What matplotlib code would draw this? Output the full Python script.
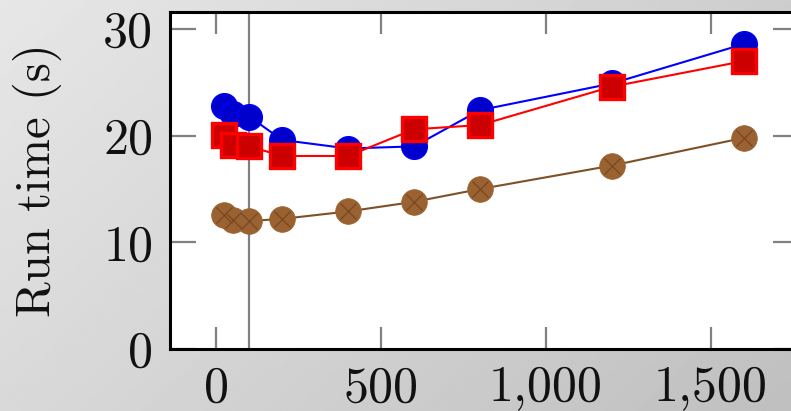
import numpy as np
import matplotlib
matplotlib.use("Agg")
import matplotlib.pyplot as plt
from matplotlib.ticker import FuncFormatter, FixedLocator

plt.rcParams['font.family'] = ['cmr10', 'DejaVu Serif']
plt.rcParams['axes.unicode_minus'] = False

x = [25, 50, 100, 200, 400, 600, 800, 1200, 1600]
blue = [22.8, 22.0, 21.8, 19.6, 18.8, 19.0, 22.4, 24.9, 28.6]
red = [20.1, 19.1, 19.0, 18.1, 18.1, 20.6, 21.0, 24.6, 27.0]
brown = [12.6, 12.1, 12.0, 12.2, 12.9, 13.8, 15.0, 17.2, 19.8]
xticks = [0, 500, 1000, 1500]
yticks = [0, 10, 20, 30]
vline_x = 100
ylabel = "Run time (s)"

fig = plt.figure(figsize=(7.91, 4.11), dpi=100)

# gradient background
bg = fig.add_axes([0, 0, 1, 1], zorder=-10)
gx, gy = np.meshgrid(np.linspace(0, 1, 200), np.linspace(0, 1, 200))
grad = 0.905 - 0.10 * gx - 0.055 * gy
bg.imshow(grad, cmap='gray', vmin=0, vmax=1, aspect='auto', extent=[0, 1, 0, 1], origin='upper')
bg.axis('off')

ax = fig.add_axes([170/791, 62/411, 629/791, 337/411])
ax.set_facecolor('white')
ax.set_xlim(-140, 1767)
ax.set_ylim(0, 31.6)

ax.axvline(vline_x, color='#808080', lw=1.6, zorder=1)

ax.plot(x, blue, color='#0000FF', lw=1.5, marker='o', ms=18.5, mfc='#0000CC', mec='#0000FF', mew=1.0, zorder=3)
ax.plot(x, red, color='#FF0000', lw=1.5, marker='s', ms=17.5, mfc='#CC0000', mec='#FF0000', mew=2.4, zorder=4)
ax.plot(x, brown, color='#7F5026', lw=1.5, marker='o', ms=18.5, mfc='#9A6230', mec='#9A6230', mew=0.5, zorder=3)
ax.plot(x, brown, ls='none', marker='x', ms=11, mec='#7A4A22', mew=1.0, zorder=3.5)

ax.xaxis.set_major_locator(FixedLocator(xticks))
ax.yaxis.set_major_locator(FixedLocator(yticks))
ax.xaxis.set_major_formatter(FuncFormatter(lambda v, p: f"{int(v):,}"))
ax.yaxis.set_major_formatter(FuncFormatter(lambda v, p: f"{int(v)}"))
ax.tick_params(axis='both', which='major', direction='in', color='#808080', width=1.6,
               labelsize=36, top=True, right=True, labelcolor='#111111')
ax.tick_params(axis='x', length=16, pad=12)
ax.tick_params(axis='y', length=19, pad=12)
for s in ax.spines.values():
    s.set_linewidth(2.2)
    s.set_color('black')

ax.set_ylabel(ylabel, fontsize=35, labelpad=30, color='#111111')

fig.savefig('out.png', dpi=100)
